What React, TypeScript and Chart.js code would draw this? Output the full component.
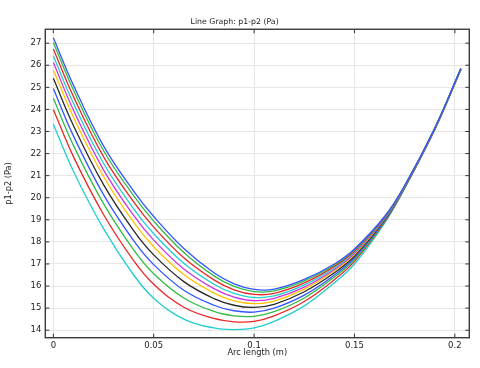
import React, { useEffect, useRef } from "react";
import { Chart, registerables } from "chart.js";

Chart.register(...registerables);

// Arc length (m)
const arcLength = [0, 0.01, 0.025, 0.04, 0.05, 0.065, 0.08, 0.09, 0.1, 0.11, 0.125, 0.14, 0.15, 0.165, 0.175, 0.19, 0.203];

// p1-p2 (Pa), one array per curve (top to bottom at the left end)
const curve1 = [27.25, 25.1, 22.35, 20.3, 19.15, 17.7, 16.6, 16.1, 15.85, 15.86, 16.3, 17.0, 17.68, 19.15, 20.55, 23.15, 25.85];
const curve2 = [27.03, 24.88, 22.14, 20.09, 18.94, 17.52, 16.46, 15.98, 15.75, 15.78, 16.23, 16.95, 17.64, 19.13, 20.54, 23.15, 25.85];
const curve3 = [26.74, 24.59, 21.86, 19.81, 18.67, 17.28, 16.28, 15.83, 15.62, 15.67, 16.14, 16.89, 17.59, 19.11, 20.53, 23.14, 25.84];
const curve4 = [26.42, 24.28, 21.56, 19.5, 18.37, 17.03, 16.08, 15.67, 15.48, 15.55, 16.05, 16.82, 17.54, 19.09, 20.52, 23.14, 25.84];
const curve5 = [26.12, 23.97, 21.26, 19.2, 18.08, 16.77, 15.88, 15.5, 15.34, 15.44, 15.95, 16.75, 17.48, 19.06, 20.51, 23.13, 25.84];
const curve6 = [25.79, 23.66, 20.96, 18.89, 17.78, 16.52, 15.68, 15.33, 15.2, 15.32, 15.86, 16.69, 17.43, 19.04, 20.5, 23.12, 25.83];
const curve7 = [25.41, 23.27, 20.59, 18.51, 17.41, 16.2, 15.43, 15.13, 15.03, 15.17, 15.74, 16.6, 17.36, 19.01, 20.49, 23.12, 25.83];
const curve8 = [24.95, 22.8, 20.14, 18.06, 16.97, 15.81, 15.13, 14.88, 14.82, 15.0, 15.59, 16.5, 17.28, 18.97, 20.47, 23.11, 25.82];
const curve9 = [24.5, 22.37, 19.73, 17.64, 16.56, 15.46, 14.85, 14.65, 14.63, 14.84, 15.46, 16.41, 17.2, 18.94, 20.46, 23.1, 25.82];
const curve10 = [24.0, 21.86, 19.24, 17.15, 16.08, 15.04, 14.53, 14.38, 14.4, 14.65, 15.3, 16.29, 17.12, 18.9, 20.44, 23.09, 25.81];
const curve11 = [23.33, 21.2, 18.6, 16.5, 15.45, 14.5, 14.1, 14.03, 14.1, 14.4, 15.1, 16.15, 17.0, 18.85, 20.42, 23.08, 25.8];

const curves = [curve1, curve2, curve3, curve4, curve5, curve6, curve7, curve8, curve9, curve10, curve11];

const lineColors = [
  "rgb(51,85,255)",
  "rgb(51,187,68)",
  "rgb(232,40,40)",
  "rgb(34,206,206)",
  "rgb(206,51,221)",
  "rgb(255,196,0)",
  "rgb(40,40,40)",
  "rgb(51,85,255)",
  "rgb(51,187,68)",
  "rgb(232,40,40)",
  "rgb(34,206,206)",
];

const xTicks = [0, 0.05, 0.1, 0.15, 0.2];
const xTickLabels = ["0", "0.05", "0.1", "0.15", "0.2"];
const yTicks = [14, 15, 16, 17, 18, 19, 20, 21, 22, 23, 24, 25, 26, 27];
const yTickLabels = ["14", "15", "16", "17", "18", "19", "20", "21", "22", "23", "24", "25", "26", "27"];

const FONT = "'DejaVu Sans', sans-serif";
const TEXT = "#222";

const framePlugin = {
  id: "frameTicks",
  afterDatasetsDraw(chart: any) {
    const { ctx, chartArea: a, scales } = chart;
    const L = 4;
    ctx.save();
    ctx.strokeStyle = "#333";
    ctx.lineWidth = 1;
    ctx.beginPath();
    scales.x.ticks.forEach((t: any) => {
      const px = scales.x.getPixelForValue(t.value);
      ctx.moveTo(px, a.bottom);
      ctx.lineTo(px, a.bottom - L);
      ctx.moveTo(px, a.top);
      ctx.lineTo(px, a.top + L);
    });
    scales.y.ticks.forEach((t: any) => {
      const py = scales.y.getPixelForValue(t.value);
      ctx.moveTo(a.left, py);
      ctx.lineTo(a.left + L, py);
      ctx.moveTo(a.right, py);
      ctx.lineTo(a.right - L, py);
    });
    ctx.stroke();
    ctx.lineWidth = 1.4;
    ctx.strokeStyle = "#3a3a3a";
    ctx.strokeRect(a.left, a.top, a.right - a.left, a.bottom - a.top);
    ctx.restore();
  },
};

export default function App() {
  const canvasRef = useRef<HTMLCanvasElement | null>(null);

  useEffect(() => {
    document.body.style.margin = "0";
    const canvas = canvasRef.current;
    if (!canvas) return;
    const datasets = curves.map((c, i) => ({
      label: "curve " + (i + 1),
      data: arcLength.map((x, j) => ({ x, y: c[j] })),
      borderColor: lineColors[i],
      backgroundColor: lineColors[i],
      borderWidth: 1.3,
      pointRadius: 0,
      fill: false,
      tension: 0.4,
    }));
    const chart = new Chart(canvas, {
      type: "line",
      data: { datasets },
      options: {
        animation: false,
        responsive: false,
        maintainAspectRatio: false,
        layout: { padding: { left: 0, right: 10.7, top: 0, bottom: 0 } },
        plugins: {
          legend: { display: false },
          tooltip: { enabled: false },
          title: {
            display: true,
            text: "Line Graph: p1-p2 (Pa)",
            color: TEXT,
            font: { family: FONT, size: 7.8, weight: "normal" },
            padding: { top: 16.8, bottom: 3.1 },
          },
        },
        scales: {
          x: {
            type: "linear",
            min: -0.004,
            max: 0.2072,
            afterBuildTicks: (s: any) => {
              s.ticks = xTicks.map((v) => ({ value: v }));
            },
            afterFit: (s: any) => {
              s.height = 30.3;
            },
            ticks: {
              autoSkip: false,
              maxRotation: 0,
              padding: 2.5,
              color: TEXT,
              font: { family: FONT, size: 8.5 },
              callback: (v: any, i: number) => xTickLabels[i],
            },
            grid: { color: "#e6e6e6", lineWidth: 1, drawTicks: false },
            border: { display: false },
            title: {
              display: true,
              text: "Arc length (m)",
              color: TEXT,
              font: { family: FONT, size: 8.3 },
              padding: { top: 0, bottom: 10 },
            },
          },
          y: {
            type: "linear",
            min: 13.66,
            max: 27.63,
            afterBuildTicks: (s: any) => {
              s.ticks = yTicks.map((v) => ({ value: v }));
            },
            afterFit: (s: any) => {
              s.width = 45.3;
            },
            ticks: {
              autoSkip: false,
              padding: 4,
              color: TEXT,
              font: { family: FONT, size: 8.5 },
              callback: (v: any, i: number) => yTickLabels[i],
            },
            grid: { color: "#e6e6e6", lineWidth: 1, drawTicks: false },
            border: { display: false },
            title: {
              display: true,
              text: "p1-p2 (Pa)",
              color: TEXT,
              font: { family: FONT, size: 8.2 },
              padding: { top: 3.6, bottom: 0 },
            },
          },
        },
      },
      plugins: [framePlugin],
    });
    return () => chart.destroy();
  }, []);

  return (
    <div style={{ width: 480, height: 368, position: "relative", background: "#fff" }}>
      <canvas ref={canvasRef} width={480} height={368} style={{ display: "block", width: 480, height: 368 }} />
    </div>
  );
}
